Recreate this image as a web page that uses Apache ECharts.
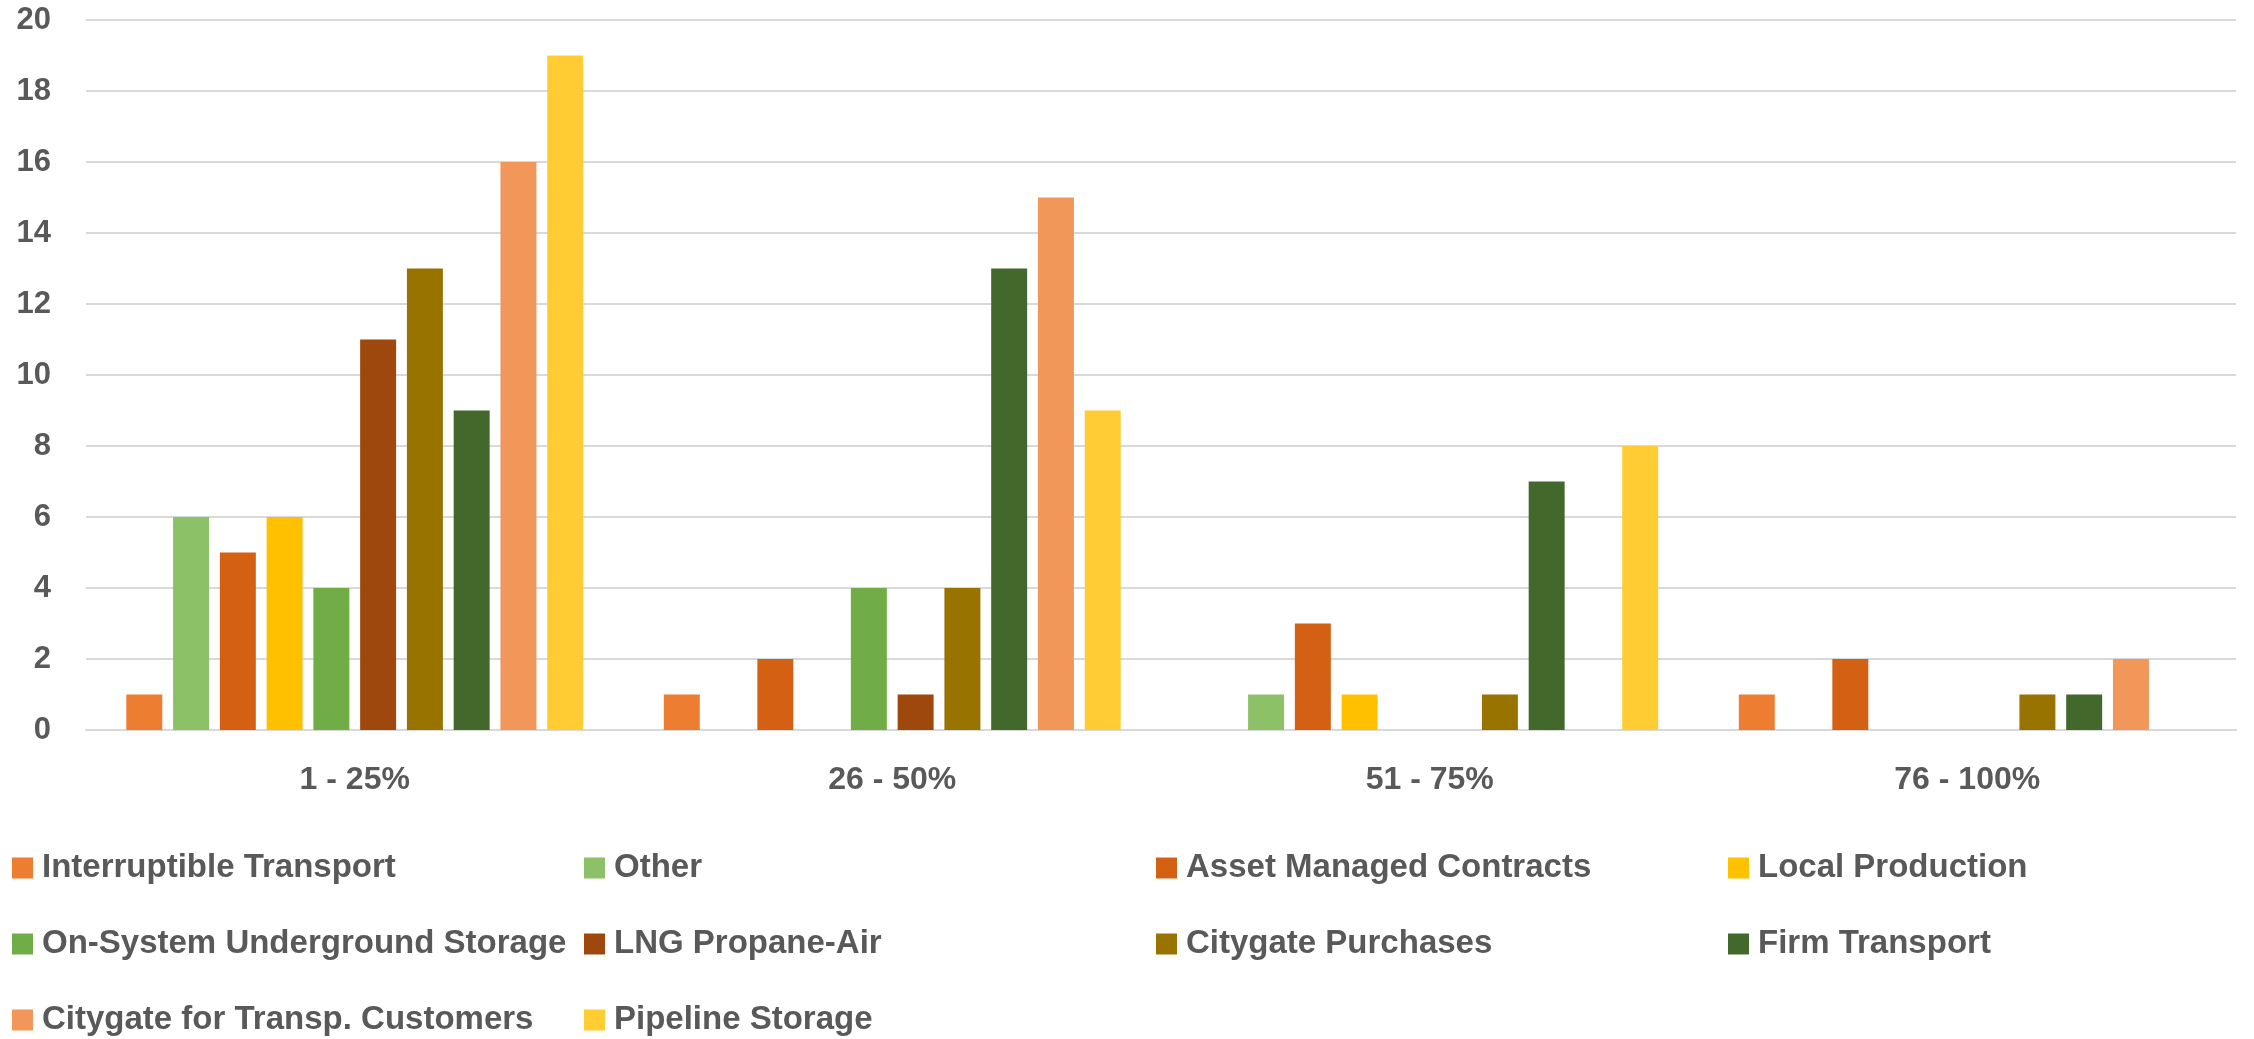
<!DOCTYPE html>
<html>
<head>
<meta charset="utf-8">
<script src="https://cdn.jsdelivr.net/npm/echarts@6/dist/echarts.min.js"></script>
<style>
html,body{margin:0;padding:0;background:#fff;}
#chart{width:2254px;height:1039px;}
</style>
</head>
<body>
<div id="chart"></div>
<script>
const categories = ['1 - 25%', '26 - 50%', '51 - 75%', '76 - 100%'];
const seriesNames = [
  'Interruptible Transport', 'Other', 'Asset Managed Contracts', 'Local Production',
  'On-System Underground Storage', 'LNG Propane-Air', 'Citygate Purchases', 'Firm Transport',
  'Citygate for Transp. Customers', 'Pipeline Storage'
];
const interruptibleTransport = [1, 1, 0, 1];
const other = [6, 0, 1, 0];
const assetManagedContracts = [5, 2, 3, 2];
const localProduction = [6, 0, 1, 0];
const onSystemUndergroundStorage = [4, 4, 0, 0];
const lngPropaneAir = [11, 1, 0, 0];
const citygatePurchases = [13, 4, 1, 1];
const firmTransport = [9, 13, 7, 1];
const citygateForTranspCustomers = [16, 15, 0, 2];
const pipelineStorage = [19, 9, 8, 0];
const yTicks = [0, 2, 4, 6, 8, 10, 12, 14, 16, 18, 20];

const seriesValues = [
  interruptibleTransport, other, assetManagedContracts, localProduction,
  onSystemUndergroundStorage, lngPropaneAir, citygatePurchases, firmTransport,
  citygateForTranspCustomers, pipelineStorage
];
const colors = ['#ED7D31', '#8CC168', '#D46113', '#FFC000', '#70AD47',
  '#9E480E', '#997300', '#43682B', '#F1975A', '#FFCD33'];

// legend rows of four items ('\n' and '' both start a new legend row;
// they must differ because the legend drops duplicate names)
const legendData = seriesNames.slice(0, 4)
  .concat(['\n'], seriesNames.slice(4, 8), [''], seriesNames.slice(8));

const FONT = '"Liberation Sans", Arial, sans-serif';
const chart = echarts.init(document.getElementById('chart'));
chart.setOption({
  animation: false,
  color: colors,
  grid: { left: 86, right: 18, top: 20, bottom: 309, containLabel: false },
  legend: {
    left: 12, top: 835, width: 4000, padding: 0,
    itemWidth: 21, itemHeight: 21, itemGap: 10,
    icon: 'rect',
    data: legendData,
    textStyle: {
      fontFamily: FONT, fontSize: 33, fontWeight: 'bold', color: '#595959',
      width: 532, lineHeight: 66, padding: [0, 0, 0, 4]
    }
  },
  xAxis: {
    type: 'category',
    data: categories,
    axisTick: { show: false },
    axisLine: { lineStyle: { color: '#D9D9D9', width: 2 } },
    axisLabel: { fontFamily: FONT, fontSize: 32, fontWeight: 'bold', color: '#595959', margin: 34, lineHeight: 32 }
  },
  yAxis: {
    type: 'value',
    min: yTicks[0], max: yTicks[yTicks.length - 1], interval: 2,
    axisLine: { show: false },
    axisTick: { show: false },
    splitLine: { lineStyle: { color: '#D9D9D9', width: 2 } },
    axisLabel: { fontFamily: FONT, fontSize: 31, fontWeight: 'bold', color: '#595959', margin: 35 }
  },
  series: seriesNames.map((name, i) => ({
    name: name,
    type: 'bar',
    data: seriesValues[i],
    barGap: '30%',
    barCategoryGap: '15%'
  }))
});
</script>
</body>
</html>
